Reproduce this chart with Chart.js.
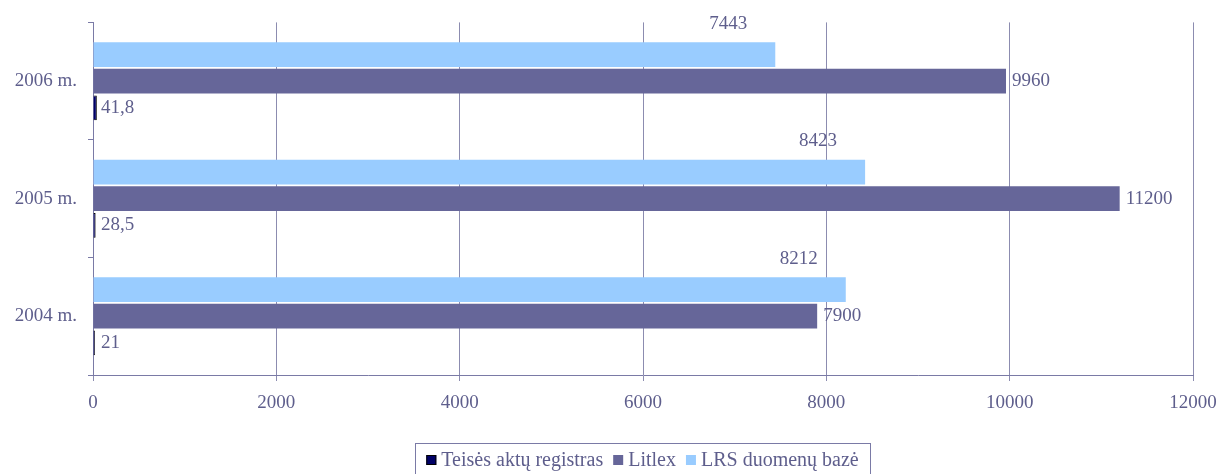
<!DOCTYPE html>
<html>
<head>
<meta charset="utf-8">
<script src="https://cdn.jsdelivr.net/npm/chart.js@4"></script>
<style>
  html, body { margin: 0; padding: 0; background: #fff; }
  #box { width: 1221px; height: 474px; }
</style>
</head>
<body>
<div id="box"><canvas id="grafico"></canvas></div>
<script>
const metai = ["2006 m.", "2005 m.", "2004 m."];
const lrsBaze = [7443, 8423, 8212];
const litlex = [9960, 11200, 7900];
const teisesRegistras = [41.8, 28.5, 21];
const xTicks = [0, 2000, 4000, 6000, 8000, 10000, 12000];

const spalvaTeksto = "#5e5e8c";
const sriftas = "Liberation Serif";

function formatuoti(v) {
  return String(v).replace(".", ",");
}

// reiksmiu uzrasai prie juostu
const uzrasai = {
  id: "uzrasai",
  afterDatasetsDraw(chart) {
    const ctx = chart.ctx;
    ctx.save();
    ctx.font = "19px '" + sriftas + "'";
    ctx.fillStyle = spalvaTeksto;
    ctx.textBaseline = "middle";
    chart.data.datasets.forEach(function (ds, i) {
      const meta = chart.getDatasetMeta(i);
      meta.data.forEach(function (bar, j) {
        const txt = formatuoti(ds.data[j]);
        if (i === 0) {
          ctx.textAlign = "center";
          ctx.fillText(txt, bar.x - 47, bar.y - 31);
        } else if (i === 1) {
          ctx.textAlign = "left";
          ctx.fillText(txt, bar.x + 6, bar.y);
        } else {
          ctx.textAlign = "left";
          ctx.fillText(txt, chart.chartArea.left + 8, bar.y);
        }
      });
    });
    ctx.restore();
  }
};

// legenda su remeliu apacioje
const legenda = {
  id: "legenda",
  afterDraw(chart) {
    const ctx = chart.ctx;
    ctx.save();
    ctx.font = "20px '" + sriftas + "'";
    const items = chart.data.datasets.slice().reverse();
    const kv = 10, tarpas = 5, tarpasTarp = 10;
    let plotis = 0;
    items.forEach(function (ds) {
      plotis += kv + tarpas + ctx.measureText(ds.label).width;
    });
    plotis += tarpasTarp * (items.length - 1);
    const kaire = 415, deszine = 870;
    let x = kaire + ((deszine - kaire) - plotis) / 2;
    const y = 460;
    ctx.strokeStyle = "#7a7aa6";
    ctx.lineWidth = 1;
    ctx.strokeRect(kaire + 0.5, 443.5, deszine - kaire, 40);
    ctx.textBaseline = "middle";
    ctx.textAlign = "left";
    items.forEach(function (ds) {
      ctx.fillStyle = ds.backgroundColor;
      ctx.fillRect(x, y - kv / 2, kv, kv);
      if (ds.label === "Teisės aktų registras") {
        ctx.strokeStyle = "#000";
        ctx.strokeRect(x + 0.5, y - kv / 2 + 0.5, kv - 1, kv - 1);
      }
      x += kv + tarpas;
      ctx.fillStyle = spalvaTeksto;
      ctx.fillText(ds.label, x, y + 1);
      x += ctx.measureText(ds.label).width + tarpasTarp;
    });
    ctx.restore();
  }
};

new Chart(document.getElementById("grafico"), {
  type: "bar",
  plugins: [uzrasai, legenda],
  data: {
    labels: metai,
    datasets: [
      {
        label: "LRS duomenų bazė",
        data: lrsBaze,
        backgroundColor: "#99ccff",
        borderWidth: 0,
      },
      {
        label: "Litlex",
        data: litlex,
        backgroundColor: "#666699",
        borderWidth: 0,
      },
      {
        label: "Teisės aktų registras",
        data: teisesRegistras,
        backgroundColor: "#000066",
        borderColor: "#000000",
        borderWidth: 1,
      },
    ],
  },
  options: {
    indexAxis: "y",
    responsive: true,
    maintainAspectRatio: false,
    animation: false,
    layout: { padding: { top: 20, right: 28, left: 0, bottom: 0 } },
    datasets: {
      bar: { categoryPercentage: 0.68, barPercentage: 0.93 },
    },
    plugins: {
      legend: { display: false },
      tooltip: { enabled: false },
    },
    scales: {
      x: {
        min: 0,
        max: 12000,
        afterBuildTicks: function (scale) {
          scale.ticks = xTicks.map(function (v) { return { value: v }; });
        },
        afterFit: function (scale) {
          scale.height = 99;
          scale.paddingLeft = 0;
          scale.paddingRight = 0;
        },
        grid: {
          color: "#8c8cb0",
          lineWidth: 1,
          tickLength: 6,
          drawTicks: true,
        },
        border: { color: "#7a7aa6", width: 1 },
        ticks: {
          color: spalvaTeksto,
          font: { family: sriftas, size: 19 },
          padding: 11,
          maxRotation: 0,
          callback: function (v) { return String(v); },
        },
      },
      y: {
        afterFit: function (scale) { scale.width = 93; },
        grid: {
          drawOnChartArea: false,
          color: "#7a7aa6",
          tickLength: 5,
        },
        border: { color: "#7a7aa6", width: 1 },
        ticks: {
          color: spalvaTeksto,
          font: { family: sriftas, size: 19 },
          padding: 11,
        },
      },
    },
  },
});
</script>
</body>
</html>
